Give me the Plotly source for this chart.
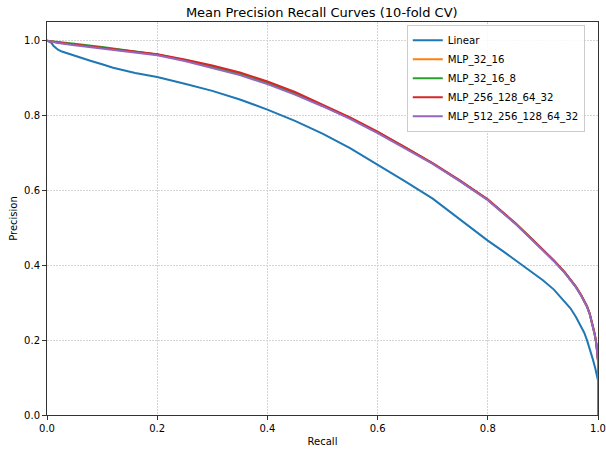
import plotly.graph_objects as go

# ---- data ----
linear_recall = [0, 0.004, 0.008, 0.012, 0.016, 0.02, 0.027, 0.035, 0.045, 0.06, 0.08, 0.1, 0.12,
                 0.16, 0.2, 0.25, 0.3, 0.35, 0.4, 0.45, 0.5, 0.55, 0.6, 0.65, 0.7, 0.75, 0.8,
                 0.83, 0.86, 0.88, 0.9, 0.92, 0.94, 0.95, 0.96, 0.97, 0.975, 0.98, 0.985, 0.99,
                 0.995, 1.0, 1.0]
linear_precision = [1.0, 0.998, 0.994, 0.986, 0.98, 0.976, 0.971, 0.967, 0.962, 0.954, 0.946, 0.937,
                    0.928, 0.914, 0.903, 0.885, 0.866, 0.843, 0.816, 0.786, 0.752, 0.713, 0.669,
                    0.624, 0.578, 0.522, 0.466, 0.435, 0.402, 0.382, 0.36, 0.335, 0.303, 0.285,
                    0.262, 0.236, 0.22, 0.2, 0.178, 0.152, 0.125, 0.092, 0.0]

mlp_recall = [0, 0.02, 0.05, 0.1, 0.15, 0.2, 0.25, 0.3, 0.35, 0.4, 0.45, 0.5, 0.55, 0.6, 0.65,
              0.7, 0.75, 0.8, 0.85, 0.88, 0.9, 0.92, 0.94, 0.96, 0.97, 0.98, 0.985, 0.99, 0.994,
              0.997, 1.0, 1.0]
mlp_32_16 = [1.0, 0.995, 0.99, 0.981, 0.972, 0.963, 0.948, 0.931, 0.911, 0.887, 0.859, 0.827,
             0.793, 0.755, 0.715, 0.672, 0.625, 0.575, 0.512, 0.47, 0.442, 0.412, 0.38, 0.342,
             0.318, 0.29, 0.27, 0.242, 0.216, 0.19, 0.145, 0.0]
mlp_32_16_8 = [1.0, 0.996, 0.992, 0.983, 0.973, 0.963, 0.948, 0.931, 0.911, 0.887, 0.859, 0.827,
               0.793, 0.755, 0.715, 0.672, 0.625, 0.575, 0.512, 0.47, 0.442, 0.412, 0.38, 0.342,
               0.318, 0.29, 0.27, 0.242, 0.216, 0.19, 0.145, 0.0]
mlp_256_128_64_32 = [1.0, 0.995, 0.99, 0.981, 0.973, 0.964, 0.95, 0.934, 0.915, 0.891, 0.863, 0.83,
                     0.795, 0.757, 0.716, 0.673, 0.626, 0.576, 0.513, 0.471, 0.443, 0.413, 0.381,
                     0.343, 0.319, 0.291, 0.271, 0.243, 0.217, 0.19, 0.145, 0.0]
mlp_512_256_128_64_32 = [1.0, 0.994, 0.988, 0.979, 0.97, 0.961, 0.946, 0.928, 0.908, 0.884, 0.856,
                         0.825, 0.791, 0.753, 0.713, 0.671, 0.624, 0.574, 0.511, 0.469, 0.441,
                         0.411, 0.379, 0.341, 0.317, 0.289, 0.269, 0.241, 0.215, 0.19, 0.145, 0.0]

series = [
    ("Linear", linear_recall, linear_precision, "#1f77b4"),
    ("MLP_32_16", mlp_recall, mlp_32_16, "#ff7f0e"),
    ("MLP_32_16_8", mlp_recall, mlp_32_16_8, "#2ca02c"),
    ("MLP_256_128_64_32", mlp_recall, mlp_256_128_64_32, "#d62728"),
    ("MLP_512_256_128_64_32", mlp_recall, mlp_512_256_128_64_32, "#9467bd"),
]

fig = go.Figure()
for name, xs, ys, color in series:
    fig.add_trace(go.Scatter(x=xs, y=ys, mode="lines", name=name,
                             line=dict(color=color, width=2)))

font = "DejaVu Sans, sans-serif"
axis_common = dict(
    showgrid=True, gridcolor="#d4d4d4", griddash="2px,1px", gridwidth=0.8,
    showline=True, linecolor="#333333", linewidth=1, mirror=True,
    ticks="outside", ticklen=4, tickcolor="#333333", zeroline=False,
    automargin=False,
    tickfont=dict(size=10, color="black", family=font),
)
tick_vals = [0, 0.2, 0.4, 0.6, 0.8, 1.0]
tick_text = ["0.0", "0.2", "0.4", "0.6", "0.8", "1.0"]
fig.update_layout(
    width=606, height=452,
    margin=dict(l=47, r=8, t=22, b=37),
    paper_bgcolor="white", plot_bgcolor="white",
    title=dict(text="Mean Precision Recall Curves (10-fold CV)", x=0.531, xanchor="center",
               y=1 - 12 / 452, yanchor="middle",
               font=dict(size=13, color="black", family=font)),
    font=dict(family=font, color="black"),
    xaxis=dict(range=[0, 1], tickvals=tick_vals, ticktext=tick_text,
               title=dict(text="Recall", font=dict(size=10, family=font), standoff=4),
               **axis_common),
    yaxis=dict(range=[0, 1.05], tickvals=tick_vals, ticktext=tick_text,
               title=dict(text="Precision", font=dict(size=10, family=font), standoff=4),
               **axis_common),
    legend=dict(x=0.976, y=0.993, xanchor="right", yanchor="top",
                bgcolor="rgba(255,255,255,0.85)", bordercolor="#cccccc", borderwidth=1,
                font=dict(size=10.2, family=font), tracegroupgap=0, itemwidth=30),
    showlegend=True,
)
fig.write_html("out.html", config={"displayModeBar": False},
               post_script="document.body.style.margin='0';document.body.style.overflow='hidden';")
